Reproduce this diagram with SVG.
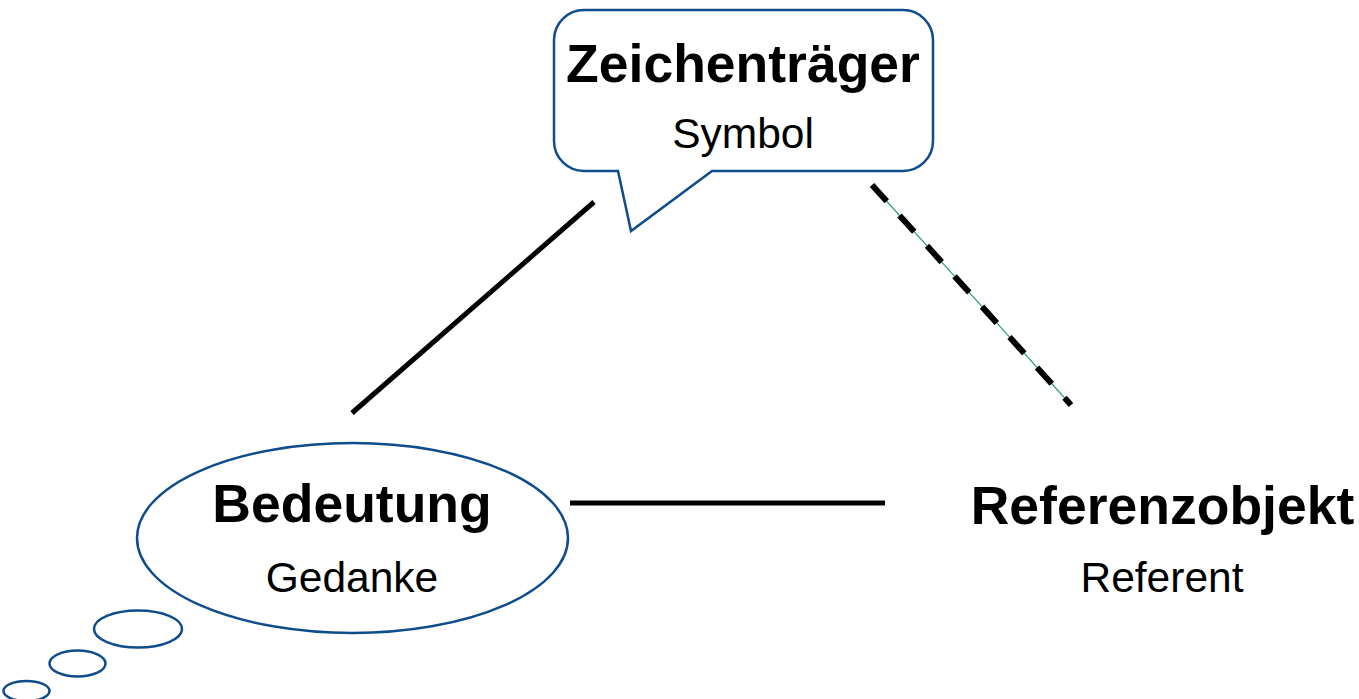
<svg xmlns="http://www.w3.org/2000/svg" width="1359" height="699" viewBox="0 0 1359 699">
  <style>
    .shape { fill: #ffffff; stroke: #0f4c8c; stroke-width: 2.5; }
    .title { font-family: "Liberation Sans", Arial, sans-serif; font-weight: bold; font-size: 53.5px; fill: #000; text-anchor: middle; }
    .sub { font-family: "Liberation Sans", Arial, sans-serif; font-size: 42.5px; fill: #000; text-anchor: middle; }
    .link { stroke: #000; stroke-width: 5; fill: none; }
  </style>
  <rect width="1359" height="699" fill="#ffffff"/>

  <!-- connectors of the semiotic triangle -->
  <g id="connectors">
    <line class="link" x1="594" y1="202" x2="352" y2="413"/>
    <line class="link" x1="570" y1="503" x2="885" y2="503"/>
    <line x1="872" y1="185" x2="1071" y2="405" stroke="#2a9d80" stroke-width="1.2"/>
    <line x1="872" y1="185" x2="1071" y2="405" stroke="#000" stroke-width="6" stroke-dasharray="22 19"/>
  </g>

  <!-- speech bubble: sign vehicle -->
  <g id="zeichentraeger">
    <path class="shape" d="M584,10 H903 A30,30 0 0 1 933,40 V141 A30,30 0 0 1 903,171 H712 L631,231 L618,171 H584 A30,30 0 0 1 554,141 V40 A30,30 0 0 1 584,10 Z"/>
    <text class="title" x="743" y="82">Zeichenträger</text>
    <text class="sub" x="743" y="148">Symbol</text>
  </g>

  <!-- thought bubble: meaning -->
  <g id="bedeutung">
    <ellipse class="shape" cx="352.5" cy="538" rx="215.5" ry="95"/>
    <ellipse class="shape" cx="138" cy="629" rx="44" ry="18.5"/>
    <ellipse class="shape" cx="77.5" cy="663.5" rx="28" ry="13"/>
    <ellipse class="shape" cx="26.5" cy="691" rx="23" ry="10"/>
    <text class="title" x="352" y="522">Bedeutung</text>
    <text class="sub" x="352" y="592">Gedanke</text>
  </g>

  <!-- referent -->
  <g id="referenzobjekt">
    <text class="title" x="1162.5" y="524">Referenzobjekt</text>
    <text class="sub" x="1162" y="592">Referent</text>
  </g>
</svg>
